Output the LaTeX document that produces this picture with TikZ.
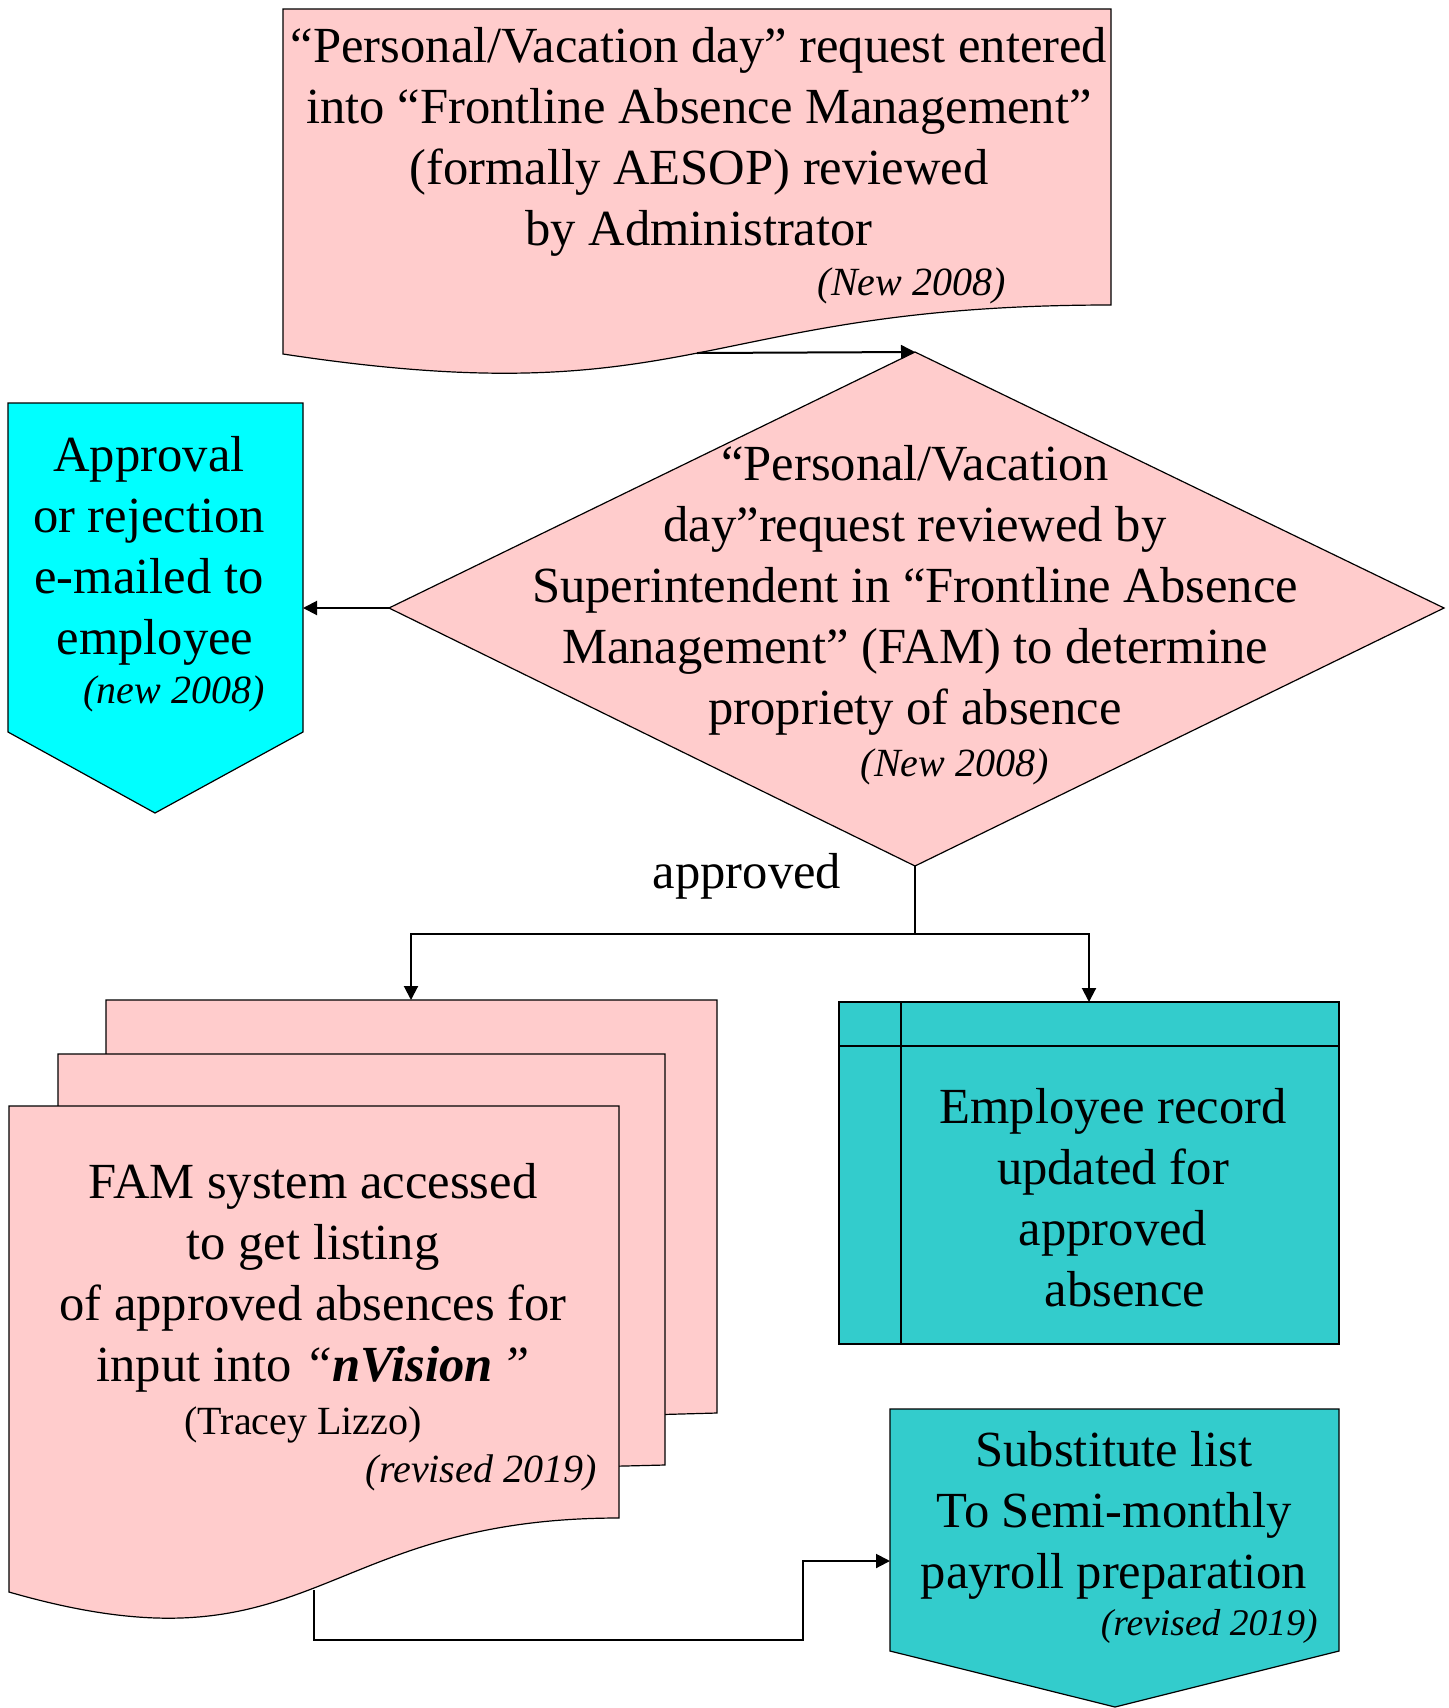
\documentclass[tikz,border=0pt]{standalone}
\usepackage{fontspec}
\setmainfont{Liberation Serif}
\usetikzlibrary{arrows.meta}
\definecolor{pinkfill}{HTML}{FFCCCC}
\definecolor{cyanfill}{HTML}{00FFFF}
\definecolor{tealfill}{HTML}{33CCCC}
\tikzset{
  body/.style={align=center, inner sep=0pt, font=\fontsize{25.3}{30.5}\selectfont},
  note/.style={inner sep=0pt, anchor=base east, font=\fontsize{20}{24}\selectfont\itshape},
  box/.style={draw, line width=0.6pt},
  flow/.style={line width=1pt, -{Triangle[length=7pt,width=7pt]}}
}
\begin{document}
\begin{tikzpicture}[x=0.5pt, y=-0.5pt]
    \useasboundingbox (0,0) rectangle (1449,1708);
    \draw[box, fill=pinkfill] (283,9) -- (1111,9) -- (1111,305) .. controls (697,305) and (697,417) .. (283,354) -- cycle;
    \draw[box, fill=pinkfill] (915,352) -- (1444,608) -- (915,866) -- (389,608) -- cycle;
    \draw[box, fill=cyanfill] (8,403) -- (303,403) -- (303,732) -- (155,813) -- (8,732) -- cycle;
    \draw[box, fill=pinkfill] (106,1000) -- (717,1000) -- (717,1413) -- (106,1430) -- cycle;
    \draw[box, fill=pinkfill] (58,1054) -- (665,1054) -- (665,1465) -- (58,1480) -- cycle;
    \draw[box, fill=pinkfill] (9,1106) -- (619,1106) -- (619,1518) .. controls (314,1518) and (314,1680) .. (9,1592) -- cycle;
    \draw[box, fill=tealfill] (839,1002) rectangle (1339,1344);
    \draw[box] (839,1046) -- (1339,1046);
    \draw[box] (901,1002) -- (901,1344);
    \draw[box, fill=tealfill] (890,1409) -- (1339,1409) -- (1339,1651) -- (1115,1707) -- (890,1651) -- cycle;

    \coordinate (reqout) at (697,353);
    \coordinate (supin) at (915,352);
    \coordinate (supleft) at (389,608);
    \coordinate (mailin) at (303,608);
    \coordinate (supout) at (915,866);
    \coordinate (split) at (915,934);
    \coordinate (famin) at (411,1000);
    \coordinate (recin) at (1089,1002);
    \coordinate (famout) at (314,1590);
    \coordinate (lowturn) at (803,1640);
    \coordinate (payin) at (890,1561);

    \node[body, anchor=north] (req) at (699,27) {“Personal/Vacation day” request entered\\into “Frontline Absence Management”\\(formally AESOP) reviewed\\by Administrator};
    \node[note] (reqnote) at (1006,295) {(New 2008)};
    \node[body, anchor=north] (sup) at (915,445) {“Personal/Vacation\\day”request reviewed by\\Superintendent in “Frontline Absence\\Management” (FAM) to determine\\propriety of absence};
    \node[note] (supnote) at (1049,776) {(New 2008)};
    \node[body, anchor=north] (mail) at (149,436) {Approval\\or rejection\\e-mailed to\\\hspace*{6pt}employee};
    \node[note] (mailnote) at (265,703) {(new 2008)};
    \node[body, anchor=base] (ok) at (747,888) {approved};
    \node[body, anchor=north] (fam) at (313,1163) {FAM system accessed\\to get listing\\of approved absences for\\input into \textit{“\textbf{nVision}\,”}};
    \node[inner sep=0pt, anchor=base, font=\fontsize{20}{24}\selectfont] (famwho) at (303,1434) {(Tracey Lizzo)};
    \node[note] (famnote) at (597,1482) {(revised 2019)};
    \node[body, anchor=north] (rec) at (1113,1088) {Employee record\\updated for\\approved\\\hspace*{12pt}absence};
    \node[body, anchor=north] (pay) at (1114,1431) {Substitute list\\To Semi-monthly\\payroll preparation};
    \node[note, font=\fontsize{18.8}{22}\selectfont\itshape] (paynote) at (1318,1635) {(revised 2019)};

    \draw[flow] (reqout) -- (supin);
    \draw[flow] (supleft) -- (mailin);
    \draw[line width=1pt] (supout) -- (split);
    \draw[flow] (split) -| (famin);
    \draw[flow] (split) -| (recin);
    \draw[flow] (famout) |- (lowturn) |- (payin);
  \end{tikzpicture}
\end{document}
